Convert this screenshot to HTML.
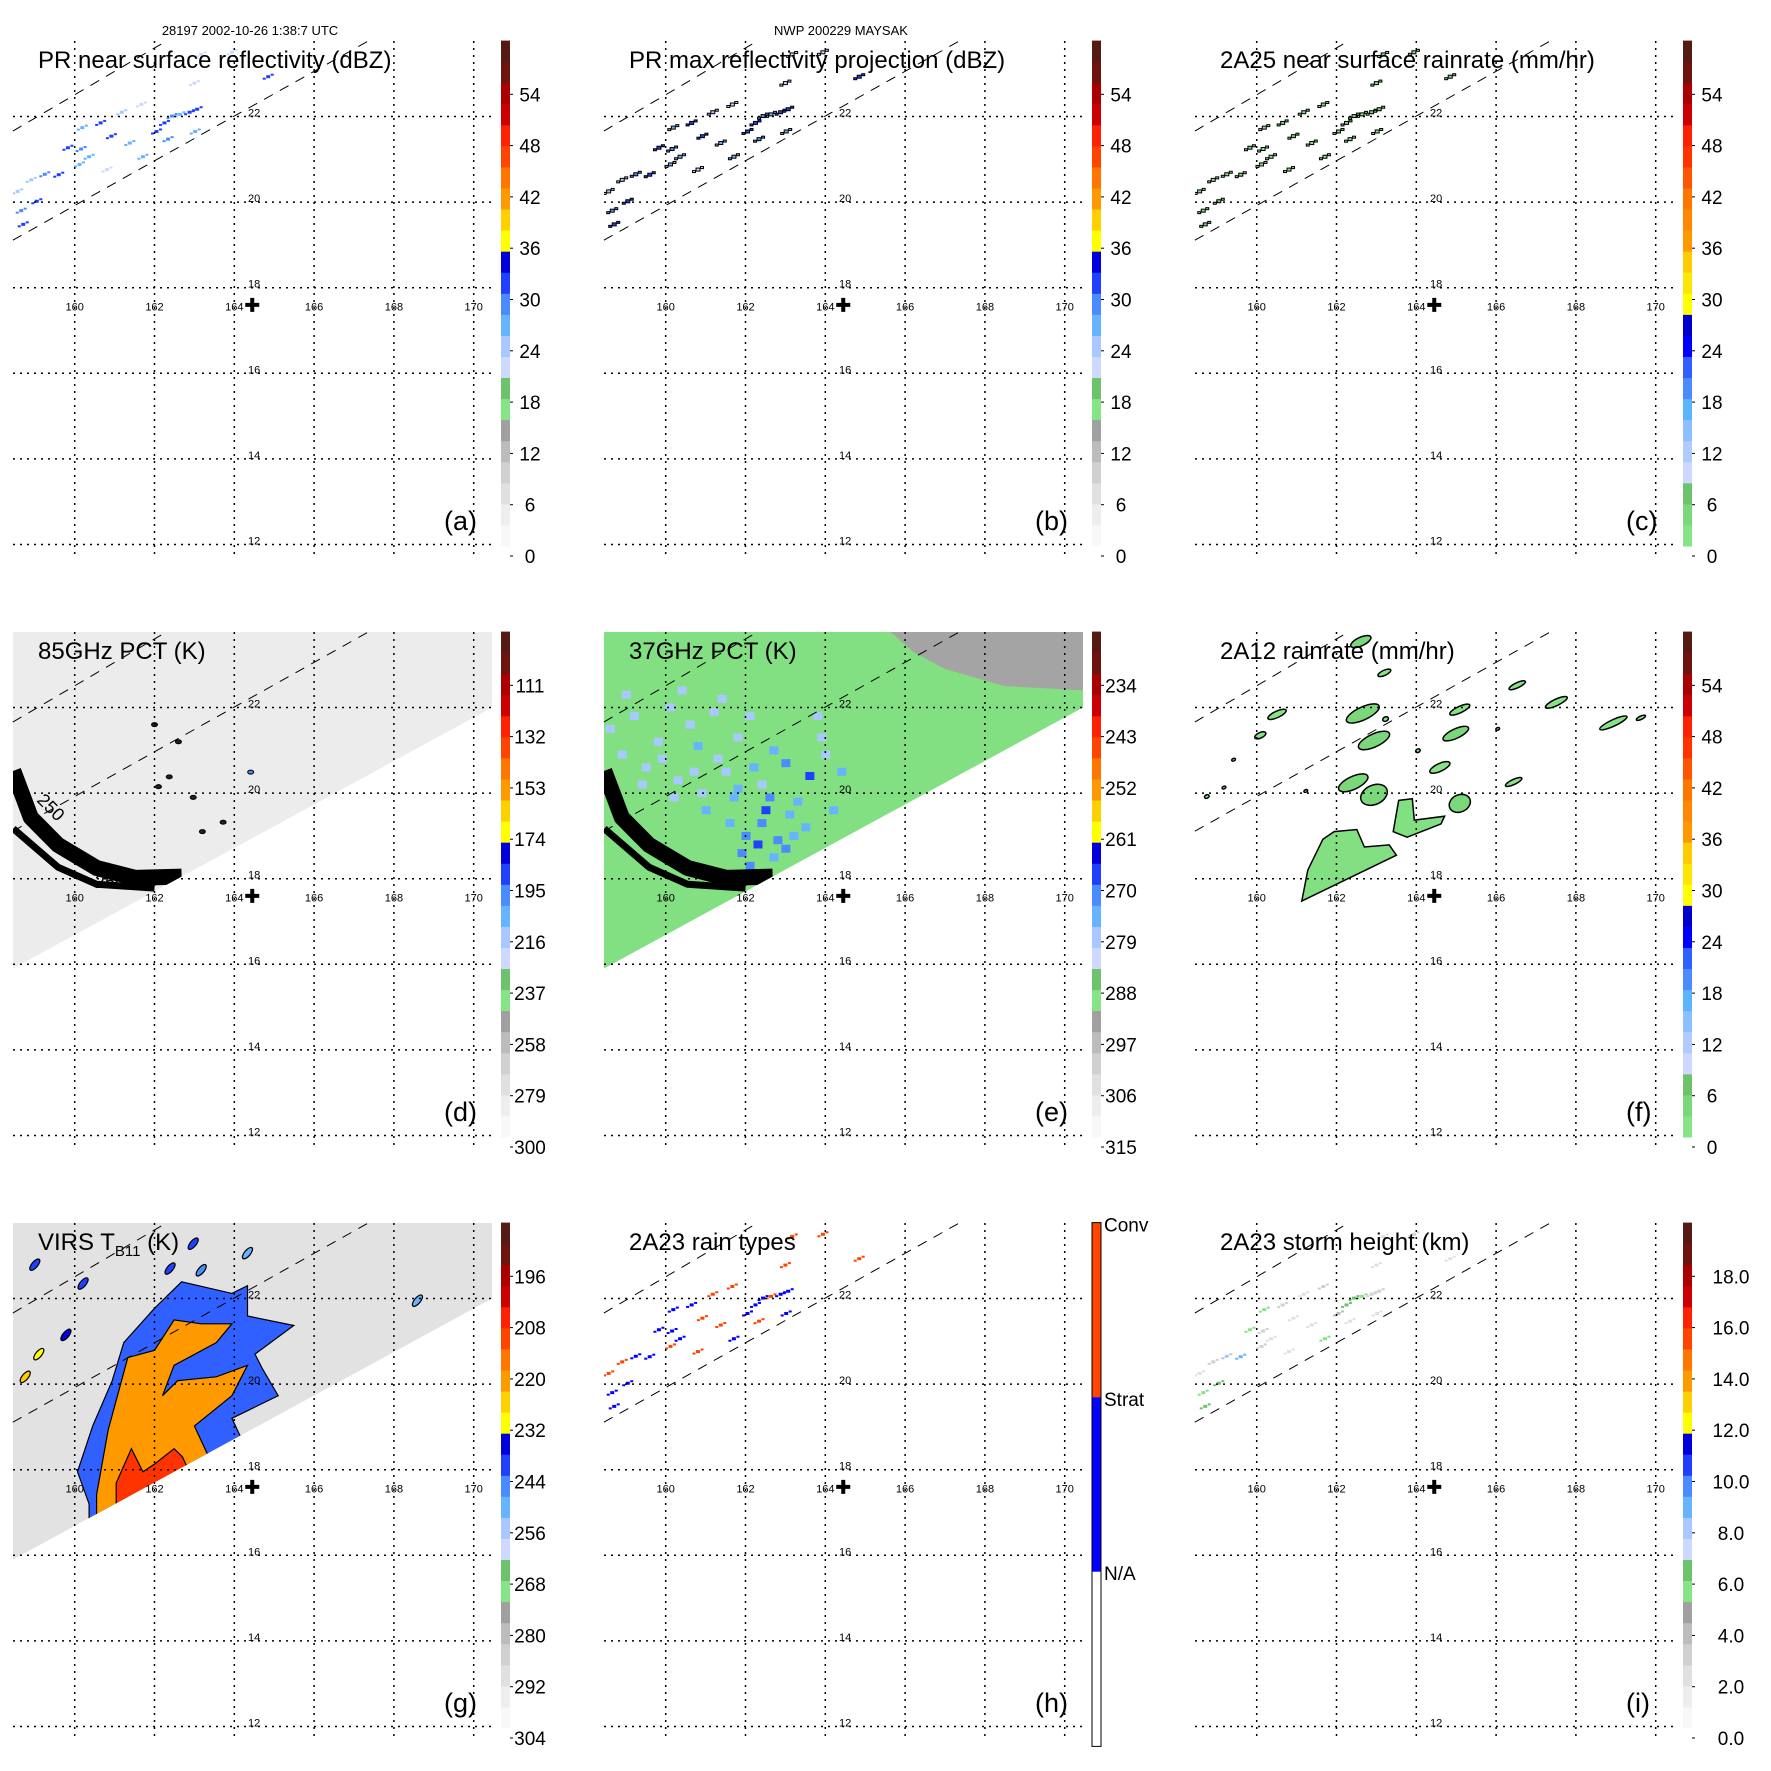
<!DOCTYPE html>
<html><head><meta charset="utf-8"><style>
html,body{margin:0;padding:0;background:#fff;}
svg{display:block;font-family:"Liberation Sans",sans-serif;}
</style></head><body>
<svg id="root" width="1771" height="1771" viewBox="0 0 1771 1771" xmlns="http://www.w3.org/2000/svg">
<rect width="1771" height="1771" fill="#fff"/>
</svg>
<script>
// ---- data arrays ----
const lonTicks=[160,162,164,166,168,170];
const latTicks=[12,14,16,18,20,22];
const stormLon=[164.45], stormLat=[17.6];
const prEdgeUpperLon=[158.45,162.29], prEdgeUpperLat=[21.66,23.76];
const prEdgeLowerLon=[158.45,167.35], prEdgeLowerLat=[19.11,23.76];
const tmiEdgeLon=[158.45,170.46], tmiEdgeLat=[15.9,22.0];
const prLon=[159.83,160.16,160.36,160.19,160.65,160.92,161.18,161.67,161.71,162.05,162.25,162.44,162.64,162.88,163.07,163.02,162.34,159.05,158.66,159.25,158.91,159.6,163.0,163.94,163.17,164.85,161.38,160.81,160.12,158.71,158.57];
const prLat=[21.27,21.24,21.06,21.74,21.85,21.54,22.1,22.28,21.06,21.65,21.85,22.01,22.05,22.1,22.17,21.65,21.47,20.02,19.8,20.65,20.52,20.64,22.78,23.5,23.45,22.93,21.38,20.76,20.88,19.48,20.25];
const prDbz=[30,28,27,25,30,32,24,22,26,30,31,29,27,32,30,25,28,31,29,28,23,30,22,20,21,30,25,22,26,30,24];
const prRain=[3,2,2,1,3,4,1,1,2,3,4,3,2,4,3,2,2,4,3,2,1,3,1,1,1,3,2,1,2,3,1];
const prType=['S','S','S','S','S','C','C','C','S','S','S','S','C','S','S','S','C','S','S','S','C','S','C','C','C','C','C','C','C','S','C'];
const prHgt=[5,3,2,5,3,2,2,3,5,4,6,6,5,3,3,2,2,6,5,8,3,9,2,3,2,2,2,2,3,6,2];
const arcOuterLon=[158.46,158.9,159.58,160.55,161.52,162.68], arcOuterLat=[20.52,19.43,18.79,18.25,18.02,18.05];
const arcInnerLon=[158.46,159.58,160.55,162.0], arcInnerLat=[19.17,18.27,17.87,17.78];
const pct85Lon=[164.41,162.97,163.72,162.1,162.37,162.0,163.2,162.6], pct85Lat=[20.49,19.9,19.32,20.15,20.38,21.6,19.1,21.2];
const pct85Val=[205,250,252,240,262,245,275,280];
const pct37Lon=[158.6,158.9,159.2,159.5,159.8,160.1,160.3,160.6,160.9,161.2,161.5,161.8,162.1,162.4,162.7,163.0,163.3,163.6,163.9,164.2,159.0,159.4,159.9,160.4,160.8,161.3,161.7,162.2,162.6,163.1,163.5,164.0,161.0,161.6,162.0,162.4,162.8,163.2,161.9,162.3,162.7,163.0,160.2,160.7,161.4,163.8,164.4,162.1,162.5,161.8];
const pct37Lat=[21.5,20.9,21.8,20.6,21.2,22.0,20.3,21.6,20.0,21.9,20.5,21.3,21.8,20.2,21.0,20.7,19.8,20.4,21.3,19.6,22.3,20.2,20.8,22.4,21.1,20.8,19.9,20.6,19.9,19.5,19.2,20.9,19.6,19.3,19.0,19.3,18.9,19.0,18.6,18.8,18.5,18.7,19.9,20.5,22.2,21.8,20.5,18.3,19.6,20.1];
const pct37Val=[283,284,283,282,284,283,282,284,283,284,282,283,284,282,280,277,281,273,283,280,284,282,283,284,281,282,279,280,276,278,281,283,280,278,276,277,275,279,276,274,278,277,283,282,284,283,281,277,273,280];
const virsBlueLon=[160.36,160.07,160.45,160.94,161.23,162.0,162.68,163.94,164.33,164.33,165.49,164.52,164.71,165.1,163.94];
const virsBlueLat=[17.2,17.95,19.02,20.08,20.97,21.77,22.39,22.12,22.3,21.59,21.37,20.7,20.35,19.73,19.2];
const virsOrangeLon=[160.55,160.84,161.33,162.0,162.49,163.17,163.94,163.55,162.49,162.2,162.58,163.55,164.33,163.94,163.0];
const virsOrangeLat=[17.42,18.93,20.62,20.79,21.5,21.41,21.41,20.97,20.44,19.73,20.08,20.17,20.44,19.73,19.02];
const virsRedLon=[161.04,161.42,161.71,162.0,162.49,162.7], virsRedLat=[17.69,18.49,17.95,18.13,18.49,18.3];
const virsCellLon=[159.0,160.21,159.78,159.1,158.76,163.17,162.39,168.59,164.33,162.97];
const virsCellLat=[22.79,22.35,21.15,20.7,20.17,22.66,22.7,21.95,23.06,23.28];
const virsCellVal=[250,248,245,240,235,252,250,255,258,250];
const rr12BigLon=[161.13,161.28,161.66,161.94,162.51,162.7,163.32,163.5], rr12BigLat=[17.48,18.2,18.92,19.1,19.15,18.74,18.79,18.55];
const rr12Blob2Lon=[163.56,163.9,163.95,164.71,164.62,163.77,163.42], rr12Blob2Lat=[19.83,19.87,19.37,19.46,19.28,18.97,19.1];
const rr12Lon=[162.94,165.09,164.59,164.99,165.09,162.66,162.94,162.42,160.51,160.09,162.61,163.2,166.53,166.44,167.51,168.94,169.63,158.75,159.18,159.42,161.23,164.04,166.04,163.23];
const rr12Lat=[19.96,19.76,20.6,21.39,21.95,21.86,21.23,20.24,21.84,21.35,23.54,22.81,22.52,20.26,22.12,21.64,21.76,19.92,20.13,20.78,20.05,20.99,21.5,21.73];
const rr12W=[0.7,0.55,0.55,0.7,0.55,0.9,0.85,0.8,0.5,0.3,0.55,0.35,0.45,0.45,0.6,0.75,0.25,0.12,0.1,0.1,0.1,0.12,0.1,0.15];
const rr12H=[0.45,0.4,0.18,0.22,0.15,0.3,0.3,0.3,0.15,0.13,0.2,0.12,0.12,0.12,0.15,0.15,0.08,0.08,0.06,0.06,0.06,0.08,0.06,0.1];
const rr12Val=[3,3,2,3,2,3,3,3,2,2,3,2,2,2,2,2,2,2,2,2,2,2,2,2];
const labelsA=['0','6','12','18','24','30','36','42','48','54'];
const labelsD=['300','279','258','237','216','195','174','153','132','111'];
const labelsE=['315','306','297','288','279','270','261','252','243','234'];
const labelsG=['304','292','280','268','256','244','232','220','208','196'];
const labelsI=['0.0','2.0','4.0','6.0','8.0','10.0','12.0','14.0','16.0','18.0'];
// ---- palettes ----
const palRef=['#f8f8f8','#eeeeee','#e0e0e0','#d0d0d0','#bcbcbc','#a0a0a0','#86e486','#6cc36c','#cdd9ff','#a8c8ff','#66b3ff','#4a8cff','#2040ff','#0000dd','#ffff00','#ffd000','#ff9900','#ff7700','#ff4400','#ff2200','#cc0000','#aa0000','#6e1410','#561a14'];
const palRain=['#86e486','#7ad87a','#6cc36c','#cdd9ff','#b0ccff','#8cc0ff','#5ab4ff','#4a8cff','#3060ff','#0000ff','#0000cc','#ffff00','#ffe600','#ffcc00','#ff9900','#ff8800','#ff7700','#ff5500','#ff3300','#ff2000','#cc0000','#aa0000','#6e1410','#561a14'];
const NS='http://www.w3.org/2000/svg';
const root=document.getElementById('root');
function el(tag,attrs,parent){const e=document.createElementNS(NS,tag);for(const k in attrs)e.setAttribute(k,attrs[k]);(parent||root).appendChild(e);return e;}
function X(lon){return 74.7+(lon-160)*39.9;}
function Y(lat){return 116.5+(22-lat)*42.8;}
function colRef(v){let i=Math.floor(v/2.5);return palRef[Math.max(0,Math.min(23,i))];}
function colRain(v){let i=Math.floor(v/2.5);return palRain[Math.max(0,Math.min(23,i))];}
function colTemp(v,lo,hi){let f=(lo-v)/(lo-hi);return palRef[Math.max(0,Math.min(23,Math.floor(f*24)))];}
function poly(lons,lats){return lons.map((l,i)=>X(l).toFixed(1)+','+Y(lats[i]).toFixed(1)).join(' ');}
let clipN=0;
function makePanel(ox,oy,letter){
  const g=el('g',{transform:`translate(${ox},${oy})`});
  
  
  const id='clip'+(clipN++);
  const cp=el('clipPath',{id:id},g);el('rect',{x:13,y:41,width:479,height:513},cp);
  const tid='tclip'+clipN;
  const tp=el('clipPath',{id:tid},g);
  el('polygon',{points:[[13,41],[492,41],[X(tmiEdgeLon[1]),Y(tmiEdgeLat[1])],[X(tmiEdgeLon[0]),Y(tmiEdgeLat[0])]].map(p=>p.join(',')).join(' ')},tp);
  const data=el('g',{'clip-path':`url(#${id})`},g);
  
  
  const swath=el('g',{'clip-path':`url(#${tid})`},data);
  return {g,data,swath,ox,oy};
}
function finishPanel(P,letter,title,header,sub){
  const g=P.g;
  const grid=el('g',{stroke:'#000','stroke-width':1.5,'stroke-dasharray':'2,5',fill:'none'},g);
  
  
  latTicks.forEach(l=>{el('line',{x1:13,x2:492,y1:Y(l),y2:Y(l)},grid);});
  lonTicks.forEach(l=>{el('line',{x1:X(l),x2:X(l),y1:41,y2:554},grid);});
  const sw=el('g',{stroke:'#000','stroke-width':1,'stroke-dasharray':'10,8',fill:'none'},g);
  
  
  el('line',{x1:X(prEdgeUpperLon[0]),y1:Y(prEdgeUpperLat[0]),x2:X(prEdgeUpperLon[1]),y2:Y(prEdgeUpperLat[1])},sw);
  el('line',{x1:X(prEdgeLowerLon[0]),y1:Y(prEdgeLowerLat[0]),x2:X(prEdgeLowerLon[1]),y2:Y(prEdgeLowerLat[1])},sw);
  latTicks.forEach(l=>{const t=el('text',{x:248,y:Y(l),'font-size':11},g);t.textContent=l;
    
    });
  lonTicks.forEach(l=>{const t=el('text',{x:X(l),y:Y(18)+23,'font-size':11,'text-anchor':'middle'},g);t.textContent=l;
    
    });
  const cx=X(stormLon[0]),cy=Y(stormLat[0]);
  const cr=el('path',{d:`M${cx-7},${cy}H${cx+7}M${cx},${cy-7}V${cy+7}`,stroke:'#000','stroke-width':4},g);
  
  
  const tt=el('text',{x:38,y:68,'font-size':24},g);
  
  
  if(sub){tt.textContent='VIRS T';const s=el('tspan',{'font-size':15,dy:6},tt);s.textContent='B11';const s2=el('tspan',{dy:-6},tt);s2.textContent=' (K)';}
  else tt.textContent=title;
  const lt=el('text',{x:444,y:530,'font-size':27},g);lt.textContent='('+letter+')';
  
  
  if(header){const h=el('text',{x:250,y:35,'font-size':13,'text-anchor':'middle'},g);h.textContent=header;
    
    }
}
function colorbar(P,pal,labels,cx){
  const g=el('g',{},P.g);
  
  
  const top=40.6,bot=546,h=(bot-top)/24;
  pal.forEach((c,i)=>{el('rect',{x:501,y:bot-(i+1)*h,width:9,height:h+0.5,fill:c},g);});
  labels.forEach((l,k)=>{const y=556-k*51.3;
    el('line',{x1:510,x2:513,y1:y,y2:y,stroke:'#000','stroke-width':1},g);
    const t=el('text',{x:cx||530,y:y+7,'font-size':19,'text-anchor':'middle'},g);t.textContent=l;
    
    });
}
function prEchoes(P,colorFn,stroke){
  prLon.forEach((lon,i)=>{
    const x=X(lon),y=Y(prLat[i]);const c=colorFn(i);if(!c)return;
    const a={fill:c};if(stroke){a.stroke='#000';a['stroke-width']=1;}
    const r=el('rect',Object.assign({x:x-2,y:y-1.5,width:4,height:3},a),P.data);
    
    
    el('rect',Object.assign({x:x+2.5,y:y-3,width:3,height:2},a),P.data);
    el('rect',Object.assign({x:x-5.5,y:y+1,width:3,height:2},a),P.data);
  });
}
// ---- panel a ----
let P=makePanel(0,0,'a');
prEchoes(P,i=>colRef(prDbz[i]),false);
finishPanel(P,'a','PR near surface reflectivity (dBZ)','28197 2002-10-26 1:38:7 UTC');
colorbar(P,palRef,labelsA);
// ---- panel b ----
P=makePanel(591,0,'b');
prEchoes(P,i=>colRef(prDbz[i]),true);
finishPanel(P,'b','PR max reflectivity projection (dBZ)','NWP 200229 MAYSAK');
colorbar(P,palRef,labelsA);
// ---- panel c ----
P=makePanel(1182,0,'c');
prEchoes(P,i=>colRain(prRain[i]),true);
finishPanel(P,'c','2A25 near surface rainrate (mm/hr)');
colorbar(P,palRain,labelsA);
// ---- panel d ----
function arcs(P){
  const pts=(lo,la)=>lo.map((l,i)=>X(l)+','+Y(la[i])).join(' ');
  const a1=el('polyline',{points:pts(arcOuterLon,arcOuterLat),fill:'none',stroke:'#000','stroke-width':16,'stroke-linejoin':'round'},P.swath);
  
  
  el('polyline',{points:pts(arcInnerLon,arcInnerLat),fill:'none',stroke:'#000','stroke-width':7,'stroke-linejoin':'round'},P.swath);
}
P=makePanel(0,591,'d');
el('rect',{x:0,y:0,width:500,height:560,fill:'#ececec'},P.swath);
pct85Lon.forEach((l,i)=>{const c=el('ellipse',{cx:X(l),cy:Y(pct85Lat[i]),rx:3,ry:2,fill:pct85Val[i]<230?'#4a8cff':'#222',stroke:'#000','stroke-width':1},P.swath);
  
  });
arcs(P);
const t250=el('text',{x:36,y:210,'font-size':18,transform:'rotate(45 36 210)'},P.g);t250.textContent='250';
const t250b=el('text',{x:95,y:297,'font-size':18},P.g);t250b.textContent='250';
finishPanel(P,'d','85GHz PCT (K)');
colorbar(P,palRef,labelsD);
// ---- panel e ----
P=makePanel(591,591,'e');
el('rect',{x:0,y:0,width:500,height:560,fill:'#82e082'},P.swath);
el('polygon',{points:poly([165.6,170.5,170.5,168.5,167.0,166.2],[23.8,23.8,22.4,22.5,22.9,23.3]),fill:'#a4a4a4'},P.swath);
pct37Lon.forEach((l,i)=>{const r=el('rect',{x:X(l)-4,y:Y(pct37Lat[i])-4,width:9,height:8,fill:colTemp(pct37Val[i],315,234)},P.swath);
  
  });
arcs(P);
finishPanel(P,'e','37GHz PCT (K)');
colorbar(P,palRef,labelsE);
// ---- panel f ----
P=makePanel(1182,591,'f');
[[rr12BigLon,rr12BigLat],[rr12Blob2Lon,rr12Blob2Lat]].forEach(b=>{const p=el('polygon',{points:poly(b[0],b[1]),fill:'#82e082',stroke:'#000','stroke-width':1.5},P.data);
  
  });
rr12Lon.forEach((l,i)=>{const e=el('ellipse',{cx:X(l),cy:Y(rr12Lat[i]),rx:rr12W[i]*39.9/2,ry:rr12H[i]*42.8/2,fill:colRain(rr12Val[i]),stroke:'#000','stroke-width':1.5,transform:`rotate(-25 ${X(l)} ${Y(rr12Lat[i])})`},P.data);
  
  });
finishPanel(P,'f','2A12 rainrate (mm/hr)');
colorbar(P,palRain,labelsA);
// ---- panel g ----
P=makePanel(0,1182,'g');
el('rect',{x:0,y:0,width:500,height:560,fill:'#e2e2e2'},P.swath);
function vpoly(lo,la,fill){
  const p=el('polygon',{points:poly(lo.concat([lo[lo.length-1]+0.6,lo[0]]),la.concat([la[la.length-1]-1.2,la[0]-0.6])),fill:fill,stroke:'#000','stroke-width':1.2},P.swath);
  
  }
vpoly(virsBlueLon,virsBlueLat,'#3060ff');
vpoly(virsOrangeLon,virsOrangeLat,'#ff9900');
vpoly(virsRedLon,virsRedLat,'#ff3300');
virsCellLon.forEach((l,i)=>{const e=el('ellipse',{cx:X(l),cy:Y(virsCellLat[i]),rx:7,ry:3,fill:colTemp(virsCellVal[i],304,196),stroke:'#000','stroke-width':1.2,transform:`rotate(-50 ${X(l)} ${Y(virsCellLat[i])})`},P.swath);
  
  });
finishPanel(P,'g','',null,true);
colorbar(P,palRef,labelsG);
// ---- panel h ----
P=makePanel(591,1182,'h');
prEchoes(P,i=>prType[i]==='C'?'#ff4500':'#0000ff',false);
finishPanel(P,'h','2A23 rain types');
(function(){const g=el('g',{},P.g);
  
  
  el('rect',{x:501,y:40.6,width:9,height:174.6,fill:'#ff4500'},g);
  el('rect',{x:501,y:215.2,width:9,height:174.6,fill:'#0000ff'},g);
  el('rect',{x:501,y:389.8,width:9,height:174.6,fill:'#fff'},g);
  el('rect',{x:501,y:40.6,width:9,height:523.8,fill:'none',stroke:'#000','stroke-width':1},g);
  [['Conv',49.5],['Strat',224],['N/A',398]].forEach(a=>{const t=el('text',{x:513,y:a[1],'font-size':19},g);t.textContent=a[0];
    
    });})();
// ---- panel i ----
P=makePanel(1182,1182,'i');
prEchoes(P,i=>colRef(prHgt[i]*60/20),false);
finishPanel(P,'i','2A23 storm height (km)');
colorbar(P,palRef,labelsI,549);
</script>
</body></html>
